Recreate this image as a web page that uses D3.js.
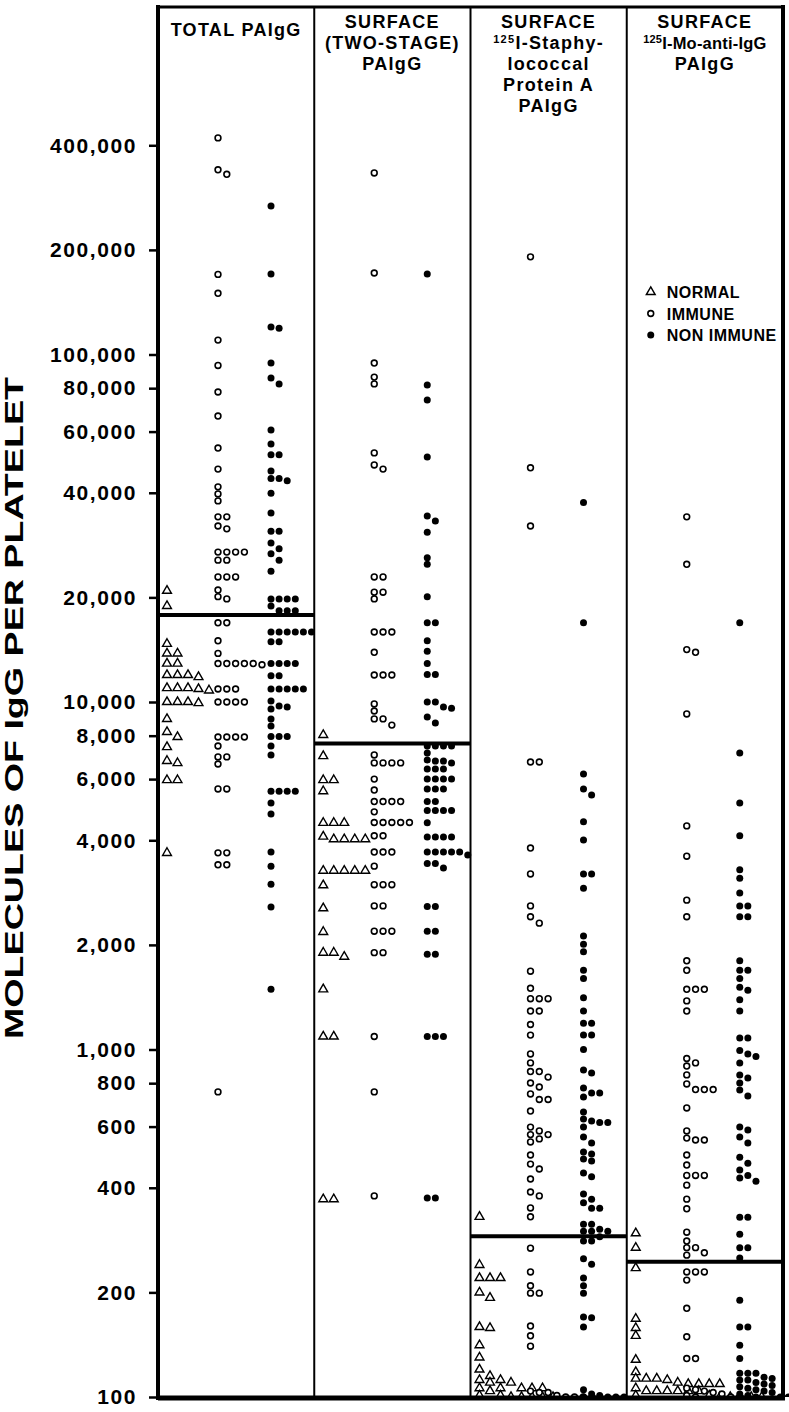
<!DOCTYPE html>
<html>
<head>
<meta charset="utf-8">
<script src="https://cdn.jsdelivr.net/npm/d3@7"></script>
<style>
  body { margin: 0; background: #fff; }
  text { font-family: "Liberation Sans", Arial, sans-serif; font-weight: bold; fill: #000; }
</style>
</head>
<body>
<svg id="chart" width="789" height="1412"></svg>
<script>
// panels and groups
const panelIds = ["total", "twoStage", "staph", "moAnti"];
const panelTitles = [
    ["TOTAL PAIgG"],
    ["SURFACE", "(TWO-STAGE)", "PAIgG"],
    ["SURFACE", "^125|I-Staphy-", "lococcal", "Protein A", "PAIgG"],
    ["SURFACE", "^125|I-Mo-anti-IgG", "PAIgG"]
];
const groups = ["normal", "immune", "nonImmune"];
const legendLabels = ["NORMAL", "IMMUNE", "NON IMMUNE"];
const yTicks = [100, 200, 400, 600, 800, 1000, 2000, 4000, 6000, 8000, 10000,
    20000, 40000, 60000, 80000, 100000, 200000, 400000];
// upper limit of normal, one per panel
const normalLimits = [17800, 7600, 290, 245];

// TOTAL PAIgG
const normalTotal = [20900, 18900, 14700, 13800, 13800, 12900, 12900, 11960, 11960, 11960, 11800,
    10970, 10970, 10970, 10800, 10900, 10000, 10000, 10000, 9930, 8940, 7930, 8200, 7420, 6770, 6670,
    5960, 5960, 3680];
const immuneTotal = [420000, 340000, 330000, 170000, 150000, 110000, 93000, 78000, 66500, 53800, 46800,
    41600, 39700, 37900, 34100, 34100, 32100, 31500, 27000, 27000, 27000, 27000, 25600, 25600, 22900,
    22900, 22900, 21000, 20100, 19800, 16900, 16900, 15000, 13800, 12900, 12900, 12900, 12900, 12900,
    12800, 10900, 10900, 10900, 10000, 10000, 10000, 10000, 7930, 7930, 7930, 7930, 7470, 6950, 6950,
    6630, 5620, 5620, 3680, 3680, 3400, 3400, 755];
const nonImmuneTotal = [267500, 170500, 120000, 119000, 94500, 85600, 82300, 60600, 55300, 51500, 51500,
    46200, 44000, 44000, 43300, 39900, 35000, 31000, 31000, 28700, 27600, 26700, 25600, 23800, 19800,
    19800, 19800, 19800, 18900, 18300, 18300, 18300, 15900, 15900, 15900, 15900, 15900, 15900, 14900,
    14900, 12900, 12900, 12900, 12900, 11900, 11900, 10900, 10900, 10900, 10900, 10900, 10070, 9740,
    9670, 9540, 8940, 8530, 7950, 7950, 7950, 7470, 7040, 5540, 5540, 5540, 5540, 5120, 4760, 3700,
    3370, 2990, 2570, 1490];

// SURFACE (TWO-STAGE)
const normalTwoStage = [8040, 6990, 5960, 5960, 5540, 4490, 4490, 4490, 4100, 4030, 4030, 4030, 4030,
    3270, 3270, 3270, 3270, 3270, 2970, 2550, 2180, 1900, 1900, 1850, 1490, 1090, 1090, 371, 371];
const immuneTwoStage = [333000, 171600, 94500, 86100, 82300, 52100, 48100, 46800, 22900, 22900, 20700,
    20700, 19800, 15900, 15900, 15900, 13900, 11960, 11960, 11960, 9870, 9420, 8940, 8940, 8580, 7040,
    6680, 6680, 6680, 6680, 6000, 5580, 5170, 5170, 5170, 5170, 4830, 4500, 4500, 4500, 4500, 4500,
    4120, 4120, 3700, 3700, 3700, 3370, 2980, 2980, 2980, 2590, 2590, 2190, 2190, 2190, 1900, 1900,
    1090, 755, 379];
const nonImmuneTwoStage = [170500, 81700, 74000, 50700, 34300, 33200, 30800, 26000, 24900, 20100, 16900,
    16900, 15000, 14000, 12900, 12000, 12000, 10000, 10000, 9670, 9600, 9050, 8700, 7470, 7470, 7470,
    7470, 7130, 6810, 6760, 6760, 6680, 6420, 6420, 6420, 6000, 6000, 6000, 6000, 5620, 5620, 5620,
    5170, 5170, 4870, 4870, 4870, 4870, 4490, 4090, 4090, 4090, 4090, 3700, 3700, 3630, 3700, 3700,
    3700, 3430, 3430, 3330, 2580, 2580, 2190, 2190, 1880, 1880, 1090, 1090, 1090, 374, 374];

// SURFACE 125I-Staphylococcal Protein A
const normalStaph = [330, 240, 220, 220, 220, 200, 193, 159, 158, 141, 130, 120, 115, 112, 112, 110, 110,
    106, 106, 106, 106, 106, 104, 101, 101, 100, 100, 100, 100, 100];
const immuneStaph = [191000, 47200, 32100, 6720, 6720, 3800, 3200, 2590, 2410, 2310, 1680, 1500, 1400,
    1400, 1400, 1290, 1290, 1180, 1100, 971, 915, 864, 864, 833, 801, 780, 745, 718, 718, 665, 598, 583,
    569, 569, 553, 542, 497, 468, 453, 424, 389, 379, 350, 330, 268, 229, 209, 199, 199, 160, 150, 140,
    104, 103, 103, 101, 100, 100, 100, 100];
const nonImmuneStaph = [37500, 16900, 6210, 5620, 5400, 4520, 4010, 3200, 3200, 2910, 2120, 2010, 1910,
    1690, 1600, 1410, 1290, 1190, 1190, 1100, 1100, 1000, 873, 856, 775, 750, 750, 730, 661, 631, 623,
    617, 617, 598, 560, 538, 507, 500, 484, 478, 441, 430, 384, 371, 362, 349, 349, 314, 314, 304, 300,
    300, 300, 289, 281, 281, 250, 241, 220, 209, 199, 170, 169, 159, 105, 102, 101, 100, 100, 100, 100];

// SURFACE 125I-Mo-anti-IgG
const normalMoAnti = [296, 269, 235, 168, 158, 150, 128, 118, 113, 113, 113, 112, 110, 109, 109, 109,
    109, 106, 104, 104, 104, 104, 104, 104, 101, 101, 100, 100, 100, 100, 100];
const immuneMoAnti = [34100, 24900, 14150, 13900, 9240, 4400, 3600, 2690, 2410, 1800, 1690, 1490, 1490,
    1490, 1380, 1290, 942, 915, 896, 845, 796, 767, 767, 767, 679, 583, 556, 549, 549, 497, 465, 434,
    434, 434, 407, 371, 348, 298, 281, 269, 269, 260, 256, 229, 229, 229, 217, 180, 149, 129, 129, 106,
    105, 104, 103, 102, 101, 100, 100, 100];
const nonImmuneMoAnti = [16900, 7130, 5120, 4120, 3290, 3110, 2820, 2590, 2590, 2410, 2410, 1800, 1690,
    1690, 1600, 1510, 1480, 1390, 1290, 1080, 1080, 993, 970, 955, 915, 845, 828, 801, 765, 735, 598,
    587, 560, 538, 490, 471, 450, 434, 427, 418, 329, 329, 294, 269, 269, 251, 190, 159, 159, 141, 129,
    117, 117, 117, 114, 113, 112, 112, 110, 109, 108, 107, 106, 105, 104, 103, 102, 101, 100, 100, 100];

const series = [
    [normalTotal, immuneTotal, nonImmuneTotal],
    [normalTwoStage, immuneTwoStage, nonImmuneTwoStage],
    [normalStaph, immuneStaph, nonImmuneStaph],
    [normalMoAnti, immuneMoAnti, nonImmuneMoAnti]
];

const LEFT = 158, RIGHT = 783, TOP = 7, BOTTOM = 1397;
const GAP = 6.5;

const svg = d3.select("#chart");

const y = d3.scaleLog().domain([100, 1e6]).range([BOTTOM, TOP]);
const x = d3.scaleBand().domain(panelIds).range([LEFT, RIGHT]);
const groupX = d3.scaleOrdinal().domain(groups).range([9, 60, 113]);
const groupStep = d3.scaleOrdinal().domain(groups).range([10.5, 8.8, 8.1]);

// rows of points: same height -> next slot to the right
const dodge = (values) => {
    const placed = [];
    return values.slice().sort((a, b) => b - a).map((v) => {
        const yy = y(v);
        let k = 0;
        while (placed.some((p) => p.k === k && Math.abs(p.y - yy) < GAP)) k++;
        placed.push({ k, y: yy });
        return { v, y: yy, k };
    });
};

const triangle = d3.symbol(d3.symbolTriangle, 34);

const drawMarker = (sel, group) => {
    if (group === "normal") {
        sel.append("path").attr("d", triangle)
            .attr("fill", "#fff").attr("stroke", "#000").attr("stroke-width", 1.4);
    } else if (group === "immune") {
        sel.append("circle").attr("r", 2.9)
            .attr("fill", "#fff").attr("stroke", "#000").attr("stroke-width", 1.6);
    } else {
        sel.append("circle").attr("r", 3.5).attr("fill", "#000");
    }
};

svg.append("defs").append("clipPath").attr("id", "plotClip")
    .append("rect").attr("x", LEFT).attr("y", TOP).attr("width", RIGHT - LEFT + 6).attr("height", BOTTOM - TOP);

const plot = svg.append("g").attr("clip-path", "url(#plotClip)");

panelIds.forEach((p, i) => {
    groups.forEach((g, j) => {
        const pts = dodge(series[i][j]);
        plot.append("g")
            .selectAll("g")
            .data(pts)
            .join("g")
            .attr("transform", (d) => `translate(${x(p) + groupX(g) + d.k * groupStep(g)},${d.y})`)
            .call(drawMarker, g);
    });
});

// normal upper limit lines
svg.append("g")
    .selectAll("line")
    .data(panelIds)
    .join("line")
    .attr("x1", (d) => x(d))
    .attr("x2", (d) => x(d) + x.bandwidth())
    .attr("y1", (d, i) => y(normalLimits[i]))
    .attr("y2", (d, i) => y(normalLimits[i]))
    .attr("stroke", "#000")
    .attr("stroke-width", 4);

// frame
const frame = svg.append("g").attr("stroke", "#000");
frame.append("line").attr("x1", LEFT).attr("x2", LEFT).attr("y1", TOP - 2).attr("y2", BOTTOM + 3).attr("stroke-width", 4);
frame.append("line").attr("x1", RIGHT).attr("x2", RIGHT).attr("y1", TOP - 2).attr("y2", BOTTOM + 3).attr("stroke-width", 4);
frame.append("line").attr("x1", LEFT).attr("x2", RIGHT).attr("y1", TOP).attr("y2", TOP).attr("stroke-width", 3);
frame.append("line").attr("x1", LEFT).attr("x2", RIGHT + 2).attr("y1", BOTTOM + 1).attr("y2", BOTTOM + 1).attr("stroke-width", 5);
frame.selectAll(".divider")
    .data(panelIds.slice(1))
    .join("line")
    .attr("class", "divider")
    .attr("x1", (d) => x(d)).attr("x2", (d) => x(d))
    .attr("y1", TOP).attr("y2", BOTTOM)
    .attr("stroke-width", 2);

// y axis
const axis = svg.append("g")
    .attr("transform", `translate(${LEFT - 1},0)`)
    .call(d3.axisLeft(y).tickValues(yTicks).tickFormat(d3.format(",")).tickSize(8).tickSizeOuter(0).tickPadding(12));
axis.select(".domain").remove();
axis.selectAll(".tick line").attr("stroke", "#000").attr("stroke-width", 2.5);
axis.selectAll(".tick text")
    .attr("font-family", "Liberation Sans, Arial, sans-serif")
    .attr("font-weight", "bold")
    .attr("font-size", 21)
    .attr("letter-spacing", 1.6)
    .attr("fill", "#000");

// axis title
svg.append("text")
    .attr("transform", "translate(23,708) rotate(-90)")
    .attr("text-anchor", "middle")
    .attr("font-size", 26)
    .attr("textLength", 662)
    .attr("lengthAdjust", "spacingAndGlyphs")
    .text("MOLECULES OF IgG PER PLATELET");

// panel headers
panelIds.forEach((p, i) => {
    const lines = panelTitles[i];
    const top = lines.length === 1 ? 36 : 28;
    lines.forEach((line, k) => {
        const long = line.length > 14;
        const t = svg.append("text")
            .attr("x", x(p) + x.bandwidth() / 2)
            .attr("y", top + k * 21)
            .attr("text-anchor", "middle")
            .attr("font-size", long ? 16.5 : 18)
            .attr("letter-spacing", long ? 0.2 : 1.3);
        if (line.startsWith("^")) {
            const [sup, rest] = line.slice(1).split("|");
            t.append("tspan").attr("font-size", 11).attr("dy", -6).text(sup);
            t.append("tspan").attr("dy", 6).text(rest);
        } else {
            t.text(line);
        }
    });
});

// legend
const legend = svg.append("g").attr("transform", `translate(${x("moAnti") + 24},292)`);
groups.forEach((g, i) => {
    const row = legend.append("g").attr("transform", `translate(0,${i * 21.5})`);
    row.append("g").call(drawMarker, g);
    row.append("text")
        .attr("x", 16)
        .attr("y", 6)
        .attr("font-size", 16)
        .attr("letter-spacing", 0.5)
        .text(legendLabels[i]);
});
</script>
</body>
</html>
